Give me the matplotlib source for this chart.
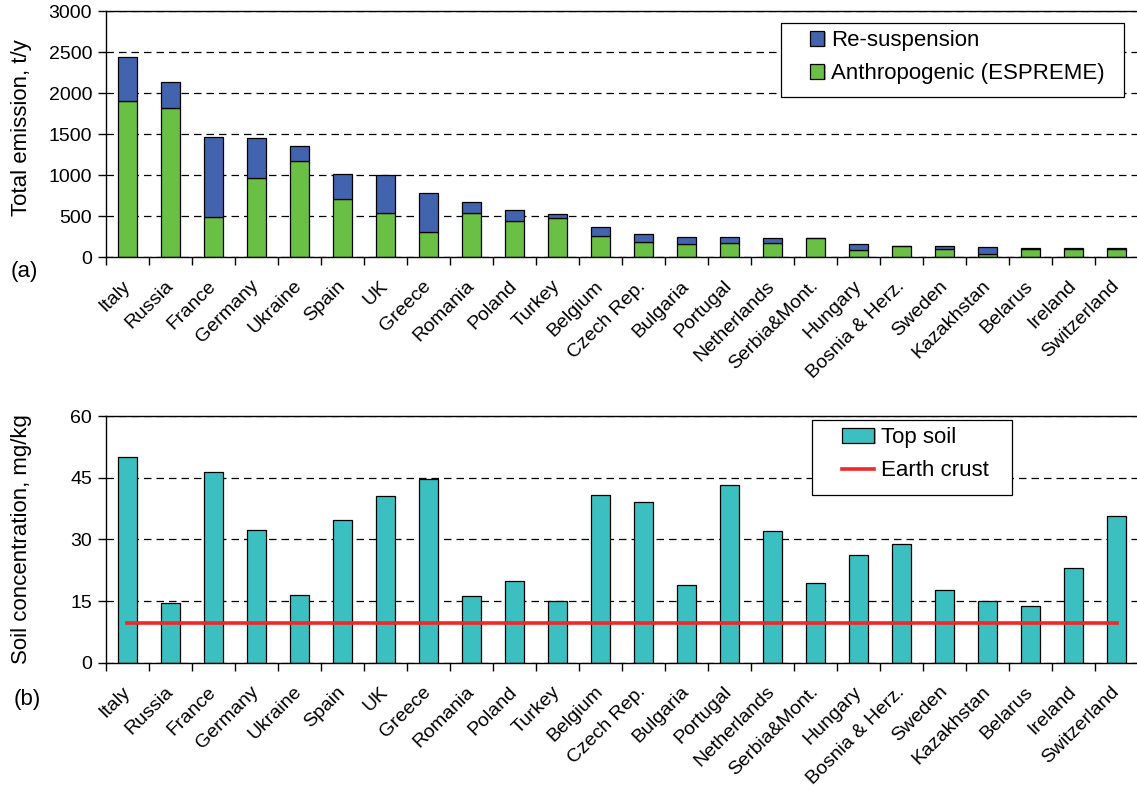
import matplotlib
matplotlib.use("Agg")
import matplotlib.pyplot as plt
import matplotlib.patheffects as pe
import matplotlib.transforms as mtransforms
from matplotlib.patches import Rectangle
import numpy as np

plt.rcParams['font.family'] = ['Liberation Sans', 'DejaVu Sans']

countries = ["Italy", "Russia", "France", "Germany", "Ukraine", "Spain", "UK",
             "Greece", "Romania", "Poland", "Turkey", "Belgium", "Czech Rep.",
             "Bulgaria", "Portugal", "Netherlands", "Serbia&Mont.", "Hungary",
             "Bosnia & Herz.", "Sweden", "Kazakhstan", "Belarus", "Ireland",
             "Switzerland"]

# Emission, t/y
anthropogenic = [1900, 1815, 492, 965, 1176, 704, 541, 305, 541, 444, 480, 256,
                 187, 163, 171, 171, 228, 90, 138, 102, 33, 98, 94, 94]
resuspension = [535, 322, 969, 488, 179, 309, 464, 472, 131, 134, 41, 110,
                98, 85, 77, 65, 7, 73, 0, 28, 85, 16, 12, 12]

# Soil concentration, mg/kg
top_soil = [50.1, 14.6, 46.5, 32.4, 16.6, 34.7, 40.5, 44.7, 16.3, 19.8, 15.0,
            40.8, 39.0, 18.9, 43.2, 32.1, 19.4, 26.2, 28.8, 17.7, 15.0, 13.8,
            23.0, 35.6]
earth_crust = 9.8

emission_ticks = [0, 500, 1000, 1500, 2000, 2500, 3000]
soil_ticks = [0, 15, 30, 45, 60]

FS = 14
FS_BIG = 16
BLUE = "#4264ae"
GREEN = "#6abf45"
TEAL = "#3cbfc0"
RED = "#f02828"

W, H = 1137, 791
fig = plt.figure(figsize=(W / 100, H / 100), dpi=100)
ax1 = fig.add_axes([0.0932, 0.675, 0.9077, 0.311])
ax2 = fig.add_axes([0.0932, 0.162, 0.9077, 0.312])

x = np.arange(len(countries))
w = 0.42
shadow = [pe.SimplePatchShadow(offset=(1.2, -0.8), shadow_rgbFace="0.45", alpha=0.6), pe.Normal()]
label_shift = mtransforms.ScaledTranslation(-5 / 100, 0, fig.dpi_scale_trans)


def px(xp, yp):
    """Pixel position (from top-left) to figure fraction."""
    return xp / W, 1 - yp / H


def style_axes(ax, ticks, ymax):
    ax.set_xlim(-0.5, len(countries) - 0.5)
    ax.set_ylim(0, ymax)
    ax.set_yticks(ticks)
    ax.spines['right'].set_visible(False)
    for s in ['left', 'bottom', 'top']:
        ax.spines[s].set_linewidth(1.0)
    ax.set_axisbelow(True)
    ax.yaxis.grid(True, color="black", linewidth=0.9, linestyle=(0, (6, 4)))
    ax.set_xticks(x)
    ax.set_xticklabels(countries, rotation=45, ha='right', va='center',
                       rotation_mode='anchor', fontsize=FS)
    for lbl in ax.get_xticklabels():
        lbl.set_transform(lbl.get_transform() + label_shift)
    ax.set_xticks(np.arange(-0.5, len(countries) + 0.5, 1), minor=True)
    ax.tick_params(axis='x', which='major', length=0, pad=19)
    ax.tick_params(axis='x', which='minor', length=6, width=1.0, direction='out')
    ax.tick_params(axis='y', length=6, width=1.0, direction='out', labelsize=FS, pad=4)


def legend_frame(x0, y0, x1, y1):
    fx0, fy1 = px(x0, y0)
    fx1, fy0 = px(x1, y1)
    fig.patches.append(Rectangle((fx0, fy0), fx1 - fx0, fy1 - fy0,
                                 transform=fig.transFigure, facecolor="white",
                                 edgecolor="black", linewidth=0.9, zorder=5))


b1 = ax1.bar(x, anthropogenic, w, color=GREEN, edgecolor="black", linewidth=0.9,
             label="Anthropogenic (ESPREME)", path_effects=shadow)
b2 = ax1.bar(x, resuspension, w, bottom=anthropogenic, color=BLUE, edgecolor="black",
             linewidth=0.9, label="Re-suspension", path_effects=shadow)
style_axes(ax1, emission_ticks, 3000)
ax1.set_ylabel("Total emission, t/y", fontsize=FS_BIG)
ax1.yaxis.set_label_coords(-0.0717, 0.525)

legend_frame(781, 23, 1124, 97)
leg1 = fig.legend([b2, b1], ["Re-suspension", "Anthropogenic (ESPREME)"],
                  loc='upper left', bbox_to_anchor=px(810, 30),
                  bbox_transform=fig.transFigure, fontsize=FS_BIG,
                  frameon=False, handlelength=0.64, handleheight=0.64,
                  handletextpad=0.3, borderpad=0, labelspacing=0.55,
                  borderaxespad=0)
leg1.set_zorder(6)

b3 = ax2.bar(x, top_soil, w, color=TEAL, edgecolor="black", linewidth=0.9,
             label="Top soil", path_effects=shadow)
crust_line, = ax2.plot(x, [earth_crust] * len(countries), color=RED, linewidth=2.6,
                       label="Earth crust")
style_axes(ax2, soil_ticks, 60)
ax2.set_ylabel("Soil concentration, mg/kg", fontsize=FS_BIG)
ax2.yaxis.set_label_coords(-0.0717, 0.5)

legend_frame(812, 420, 1012, 495)
leg2 = fig.legend([b3, crust_line], ["Top soil", "Earth crust"],
                  loc='upper left', bbox_to_anchor=px(842, 427),
                  bbox_transform=fig.transFigure, fontsize=FS_BIG,
                  frameon=False, handlelength=1.45, handleheight=0.64,
                  handletextpad=0.3, borderpad=0, labelspacing=0.55,
                  borderaxespad=0)
leg2.set_zorder(6)

fig.text(*px(24, 271), "(a)", fontsize=FS_BIG, ha='center', va='center')
fig.text(*px(27, 699), "(b)", fontsize=FS_BIG, ha='center', va='center')

fig.savefig("out.png", dpi=100, facecolor="white")
